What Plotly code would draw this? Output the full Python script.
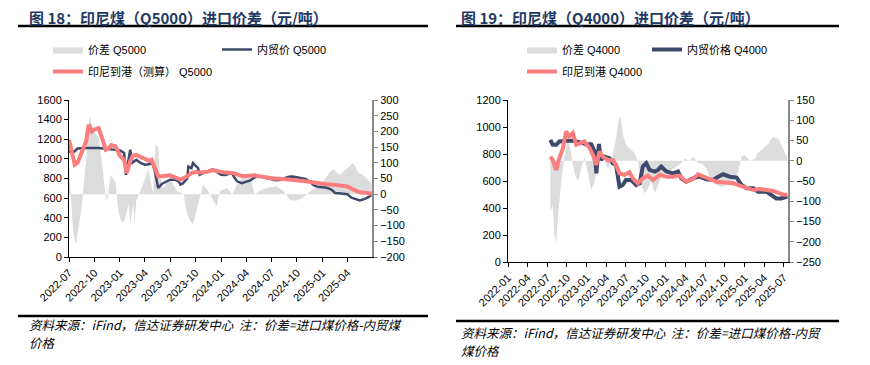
import plotly.graph_objects as go

W, H = 870, 365

# ---------------- Left chart (Q5000) ----------------
l_spread_dates = ["2022-07-01","2022-07-11","2022-07-16","2022-07-26","2022-08-04","2022-08-16","2022-08-22","2022-09-01","2022-09-13","2022-09-28",
                  "2022-10-16","2022-10-28","2022-11-10","2022-11-16","2022-11-28","2022-12-16","2022-12-27","2023-01-08","2023-01-19","2023-02-01",
                  "2023-02-07","2023-02-12","2023-02-18","2023-02-23","2023-03-01","2023-03-25","2023-04-13","2023-05-01","2023-05-10","2023-05-19",
                  "2023-05-25","2023-06-07","2023-07-01","2023-07-25","2023-08-19","2023-08-30","2023-09-11","2023-09-22","2023-10-04","2023-10-16",
                  "2023-10-28","2023-11-16","2023-12-04","2023-12-16","2023-12-28","2024-01-22","2024-02-10","2024-02-28","2024-03-22","2024-04-16",
                  "2024-05-02","2024-05-19","2024-06-13","2024-07-19","2024-08-13","2024-09-07","2024-10-01","2024-10-25","2024-11-19","2024-12-25",
                  "2025-01-28","2025-02-10","2025-03-04","2025-03-28","2025-04-22","2025-05-10","2025-05-28","2025-06-22","2025-06-28"]
l_spread = [90,-50,-120,-160,-110,-40,20,110,250,200,
            180,100,-10,-20,60,40,-60,-90,-80,-30,
            -95,-60,-30,-90,-20,30,80,0,160,150,
            60,20,50,10,0,-60,-85,-95,-50,-10,
            30,10,-20,-40,10,20,0,30,60,50,
            0,10,20,25,10,-20,-20,-10,10,30,
            70,80,60,80,100,70,60,40,30]

l_dom_dates = ["2022-07-01","2022-07-16","2022-08-01","2022-08-16","2022-09-01","2022-09-16","2022-10-01","2022-10-16","2022-11-01","2022-11-16",
               "2022-12-01","2022-12-16","2023-01-01","2023-01-16","2023-01-23","2023-02-07","2023-02-15","2023-03-01","2023-03-16","2023-04-01",
               "2023-04-16","2023-04-25","2023-05-01","2023-05-07","2023-05-19","2023-06-01","2023-06-16","2023-07-01","2023-07-16","2023-08-01",
               "2023-08-07","2023-08-16","2023-09-01","2023-09-05","2023-09-16","2023-09-22","2023-10-01","2023-10-10","2023-10-16","2023-11-01",
               "2023-11-16","2023-12-01","2023-12-16","2024-01-01","2024-01-16","2024-02-01","2024-02-10","2024-02-16","2024-02-28","2024-03-16",
               "2024-04-01","2024-04-16","2024-05-01","2024-05-16","2024-06-01","2024-06-16","2024-07-01","2024-07-16","2024-08-01","2024-08-16",
               "2024-09-01","2024-09-16","2024-10-01","2024-10-16","2024-11-01","2024-11-16","2024-12-01","2024-12-16","2025-01-01","2025-01-16",
               "2025-02-01","2025-02-16","2025-03-01","2025-03-16","2025-04-01","2025-04-16","2025-05-01","2025-05-16","2025-06-01","2025-06-16",
               "2025-06-28"]
l_dom = [1076,1065,1105,1110,1110,1110,1112,1110,1105,1100,
         1100,1092,1087,1060,838,1093,960,991,960,940,
         945,957,930,872,703,745,765,788,790,770,
         737,750,800,923,906,958,930,906,839,860,
         870,895,870,839,835,845,855,820,771,752,
         765,781,810,822,815,805,795,783,785,800,
         818,820,810,805,795,770,730,715,710,706,
         690,652,650,648,640,605,588,577,590,610,
         635]

l_imp_dates = ["2022-07-01","2022-07-11","2022-07-22","2022-08-01","2022-08-16","2022-09-01","2022-09-10","2022-09-22","2022-10-01","2022-10-16",
               "2022-11-01","2022-11-10","2022-11-22","2022-12-01","2022-12-16","2023-01-01","2023-01-16","2023-01-25","2023-02-07","2023-02-16",
               "2023-03-01","2023-03-16","2023-04-01","2023-04-16","2023-04-25","2023-05-07","2023-05-19","2023-06-01","2023-06-16","2023-07-01",
               "2023-07-16","2023-08-01","2023-08-07","2023-08-16","2023-09-01","2023-09-16","2023-10-01","2023-10-16","2023-11-01","2023-11-16",
               "2023-12-01","2023-12-16","2024-01-01","2024-01-16","2024-02-01","2024-02-16","2024-03-01","2024-03-16","2024-04-01","2024-04-16",
               "2024-05-01","2024-05-16","2024-06-01","2024-06-16","2024-07-01","2024-07-16","2024-08-01","2024-08-16","2024-09-01","2024-09-16",
               "2024-10-01","2024-10-16","2024-11-01","2024-11-16","2024-12-01","2024-12-16","2025-01-01","2025-01-16","2025-02-01","2025-02-16",
               "2025-03-01","2025-03-16","2025-04-01","2025-04-16","2025-05-01","2025-05-16","2025-06-01","2025-06-16","2025-06-28"]
l_imp = [1195,1076,940,960,1076,1180,1348,1280,1300,1314,
         1180,1093,1110,1140,1127,1030,990,856,975,1030,
         1040,1020,990,980,991,906,822,822,825,832,
         815,800,788,800,822,856,865,862,865,870,
         885,875,862,860,858,855,840,825,825,830,
         832,822,815,808,800,798,797,795,793,788,
         782,778,772,765,755,748,744,742,740,735,
         730,725,718,695,675,659,655,650,645]

l_tick_dates = ["2022-07-01","2022-10-01","2023-01-01","2023-04-01","2023-07-01","2023-10-01",
                "2024-01-01","2024-04-01","2024-07-01","2024-10-01","2025-01-01","2025-04-01"]
l_tick_labels = ["2022-07","2022-10","2023-01","2023-04","2023-07","2023-10",
                 "2024-01","2024-04","2024-07","2024-10","2025-01","2025-04"]

# ---------------- Right chart (Q4000) ----------------
r_spread_dates = ["2022-07-16","2022-07-27","2022-08-04","2022-08-12","2022-08-19","2022-09-04","2022-09-19","2022-10-05","2022-10-20","2022-11-05",
                  "2022-11-20","2022-12-05","2022-12-21","2023-01-06","2023-01-21","2023-02-06","2023-02-22","2023-03-07","2023-03-22","2023-04-08",
                  "2023-04-23","2023-05-08","2023-05-23","2023-06-01","2023-06-08","2023-06-19","2023-07-01","2023-07-17","2023-08-09","2023-08-25",
                  "2023-09-10","2023-09-25","2023-10-10","2023-10-26","2023-11-11","2023-11-26","2023-12-11","2024-01-04","2024-02-04","2024-03-05",
                  "2024-03-28","2024-04-20","2024-05-06","2024-05-29","2024-06-22","2024-07-07","2024-07-30","2024-08-23","2024-09-15","2024-10-08",
                  "2024-11-08","2024-12-01","2024-12-17","2025-01-02","2025-01-25","2025-02-17","2025-03-03","2025-03-26","2025-04-18","2025-05-12",
                  "2025-05-24","2025-06-04","2025-06-19","2025-07-05","2025-07-17"]
r_spread = [-126,-110,-184,-204,-150,-50,10,56,20,-30,
            -51,-20,10,-30,-72,-50,-10,15,0,-20,
            0,30,80,110,100,60,40,30,20,0,
            -60,-80,-70,-50,-80,-60,-40,-30,-20,-10,
            5,0,10,-5,-10,-20,-50,-60,-65,-60,
            -50,-30,10,15,0,5,20,30,40,60,
            55,55,40,20,10]

r_dom_dates = ["2022-07-16","2022-07-27","2022-08-12","2022-08-27","2022-09-27","2022-10-28","2022-11-28","2022-12-29","2023-01-21","2023-02-06",
               "2023-02-14","2023-02-26","2023-03-07","2023-03-22","2023-04-15","2023-05-01","2023-05-16","2023-06-01","2023-06-16","2023-07-01",
               "2023-07-24","2023-08-17","2023-09-02","2023-09-17","2023-10-03","2023-10-18","2023-11-11","2023-11-26","2023-12-11","2024-01-04",
               "2024-02-04","2024-02-27","2024-03-13","2024-04-05","2024-05-06","2024-06-06","2024-07-07","2024-08-07","2024-08-31","2024-09-23",
               "2024-10-24","2024-11-24","2024-12-17","2025-01-10","2025-02-10","2025-03-03","2025-04-11","2025-05-04","2025-05-27","2025-06-19",
               "2025-07-17"]
r_dom = [905,868,868,893,898,898,888,873,873,818,
         657,875,756,781,769,732,719,558,570,608,
         608,570,583,707,732,682,670,682,707,670,
         657,670,620,595,620,632,613,608,632,650,
         632,625,570,546,546,521,521,496,471,471,
         484]

r_imp_dates = ["2022-07-16","2022-07-27","2022-08-12","2022-08-24","2022-09-12","2022-09-27","2022-10-12","2022-10-28","2022-11-13","2022-11-28",
               "2022-12-21","2023-01-14","2023-01-29","2023-02-14","2023-03-01","2023-03-15","2023-04-08","2023-05-01","2023-05-16","2023-06-01",
               "2023-06-24","2023-07-17","2023-08-02","2023-08-25","2023-09-17","2023-10-10","2023-11-03","2023-12-04","2024-01-04","2024-02-04",
               "2024-03-05","2024-04-05","2024-05-06","2024-05-29","2024-06-22","2024-07-22","2024-08-23","2024-09-23","2024-11-08","2024-12-09",
               "2025-01-10","2025-02-10","2025-03-10","2025-04-11","2025-05-12","2025-06-12","2025-07-05","2025-07-17"]
r_imp = [781,756,682,756,843,967,930,955,868,880,
         893,843,794,719,818,781,756,756,719,657,
         645,665,620,583,620,640,608,645,632,632,
         640,595,615,650,632,615,595,590,583,565,
         546,533,541,533,526,508,496,501]

r_tick_dates = ["2022-01-01","2022-04-01","2022-07-01","2022-10-01","2023-01-01","2023-04-01","2023-07-01","2023-10-01",
                "2024-01-01","2024-04-01","2024-07-01","2024-10-01","2025-01-01","2025-04-01","2025-07-01"]
r_tick_labels = ["2022-01","2022-04","2022-07","2022-10","2023-01","2023-04","2023-07","2023-10",
                 "2024-01","2024-04","2024-07","2024-10","2025-01","2025-04","2025-07"]

# ---------------- styling ----------------
GRAY = "#dcdcdc"
NAVY = "#3e4a6c"
PINK = "#fb7d7d"
FONT = "Liberation Sans, Arial, Noto Sans CJK SC, sans-serif"
CJK = "Noto Sans CJK SC, sans-serif"


def px_x(x):
    return x / W


def px_y(y):
    return 1 - y / H


fig = go.Figure()

# Left chart traces
fig.add_trace(go.Scatter(x=l_spread_dates, y=l_spread, name="价差 Q5000", mode="lines",
                         fill="tozeroy", fillcolor=GRAY, line=dict(color=GRAY, width=0),
                         xaxis="x", yaxis="y", legend="legend"))
fig.add_trace(go.Scatter(x=l_dom_dates, y=l_dom, name="内贸价 Q5000", mode="lines",
                         line=dict(color=NAVY, width=2.5), xaxis="x", yaxis="y2", legend="legend"))
fig.add_trace(go.Scatter(x=l_imp_dates, y=l_imp, name="印尼到港（测算） Q5000", mode="lines",
                         line=dict(color=PINK, width=4), xaxis="x", yaxis="y2", legend="legend2"))

# Right chart traces
fig.add_trace(go.Scatter(x=r_spread_dates, y=r_spread, name="价差 Q4000", mode="lines",
                         fill="tozeroy", fillcolor=GRAY, line=dict(color=GRAY, width=0),
                         xaxis="x2", yaxis="y3", legend="legend3"))
fig.add_trace(go.Scatter(x=r_dom_dates, y=r_dom, name="内贸价格 Q4000", mode="lines",
                         line=dict(color=NAVY, width=4), xaxis="x2", yaxis="y4", legend="legend3"))
fig.add_trace(go.Scatter(x=r_imp_dates, y=r_imp, name="印尼到港 Q4000", mode="lines",
                         line=dict(color=PINK, width=4), xaxis="x2", yaxis="y4", legend="legend4"))

tickfont = dict(family=FONT, size=11, color="#000000")

xcommon = dict(type="date", showgrid=False, zeroline=False, showline=True, linecolor="#000000",
               linewidth=1, ticks="outside", ticklen=4, tickcolor="#000000", tickangle=-45,
               tickfont=tickfont, automargin=False)
yright = dict(side="right", showgrid=False, zeroline=False, showline=True, linecolor="#8a8a8a",
              linewidth=2, ticks="outside", ticklen=4, tickcolor="#8a8a8a", dtick=50,
              tickfont=tickfont, automargin=False)
yleft = dict(side="left", showgrid=False, zeroline=False, showline=True, linecolor="#000000",
             linewidth=1, ticks="outside", ticklen=4, tickcolor="#000000", tickfont=tickfont,
             automargin=False)

legend_common = dict(orientation="h", font=dict(family=FONT, size=11, color="#000000"),
                     bgcolor="rgba(0,0,0,0)", xanchor="left", yanchor="top",
                     itemwidth=30, tracegroupgap=0, borderwidth=0)

fig.update_layout(
    width=W, height=H, margin=dict(l=0, r=0, t=0, b=0, pad=0, autoexpand=False),
    paper_bgcolor="#ffffff", plot_bgcolor="rgba(0,0,0,0)",
    xaxis=dict(xcommon, domain=[px_x(69), px_x(372)], anchor="y",
               range=["2022-07-01", "2025-06-29"], tickvals=l_tick_dates, ticktext=l_tick_labels),
    yaxis=dict(yright, domain=[px_y(257), px_y(100)], anchor="x", range=[-200, 300]),
    yaxis2=dict(yleft, overlaying="y", anchor="x", range=[0, 1600], dtick=200),
    xaxis2=dict(xcommon, domain=[px_x(508), px_x(788)], anchor="y3",
                range=["2022-01-01", "2025-07-20"], tickvals=r_tick_dates, ticktext=r_tick_labels),
    yaxis3=dict(yright, domain=[px_y(262), px_y(100)], anchor="x2", range=[-250, 150]),
    yaxis4=dict(yleft, overlaying="y3", anchor="x2", range=[0, 1200], dtick=200),
    legend=dict(legend_common, x=px_x(48), y=px_y(35), entrywidth=124),
    legend2=dict(legend_common, x=px_x(48), y=px_y(57)),
    legend3=dict(legend_common, x=px_x(522), y=px_y(35), entrywidth=80),
    legend4=dict(legend_common, x=px_x(522), y=px_y(57)),
    showlegend=True,
)

title_font = dict(family=CJK, size=15, color="#1f3864")
note_font = dict(family=CJK, size=12.5, color="#000000", style="italic")

annotations = [
    dict(text="<b>图 18：印尼煤（Q5000）进口价差（元/吨）</b>", x=px_x(27), y=px_y(17),
         font=title_font),
    dict(text="<b>图 19：印尼煤（Q4000）进口价差（元/吨）</b>", x=px_x(459), y=px_y(17),
         font=title_font),
    dict(text="资料来源：iFind，信达证券研发中心  注：价差=进口煤价格-内贸煤",
         x=px_x(27), y=px_y(324), font=note_font),
    dict(text="价格", x=px_x(27), y=px_y(342), font=note_font),
    dict(text="资料来源：iFind，信达证券研发中心  注：价差=进口煤价格-内贸",
         x=px_x(459), y=px_y(332), font=note_font),
    dict(text="煤价格", x=px_x(459), y=px_y(350), font=note_font),
]
for a in annotations:
    a.update(xref="paper", yref="paper", xanchor="left", yanchor="middle", align="left",
             showarrow=False)
fig.update_layout(annotations=annotations)

shapes = []
for (x0, x1, y) in [(18, 428, 26), (18, 428, 316), (456, 839, 26), (456, 839, 321)]:
    shapes.append(dict(type="line", xref="paper", yref="paper", x0=px_x(x0), x1=px_x(x1),
                       y0=px_y(y), y1=px_y(y), line=dict(color="#000000", width=2.5)))
fig.update_layout(shapes=shapes)

fig.write_html("out.html", config={"displayModeBar": False},
               post_script="document.body.style.margin='0';document.body.style.overflow='hidden';")
